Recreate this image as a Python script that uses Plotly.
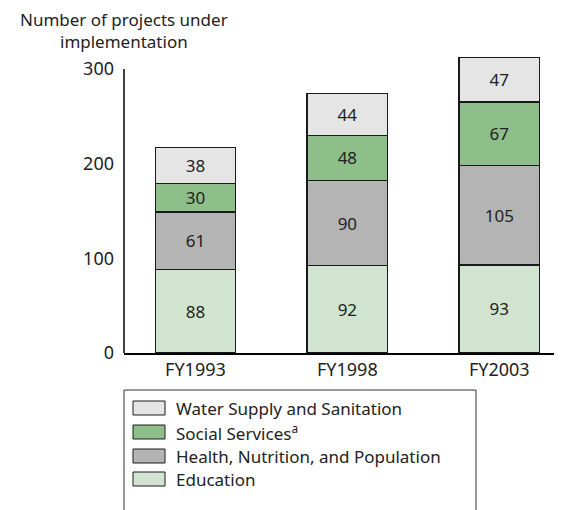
import plotly.graph_objects as go

# Projects under implementation by sector and fiscal year
years = ["FY1993", "FY1998", "FY2003"]
education = [88, 92, 93]
health = [61, 90, 105]
social = [30, 48, 67]
water = [38, 44, 47]

series = [
    ("Education", education, "#d0e4d0"),
    ("Health, Nutrition, and Population", health, "#b4b4b4"),
    ("Social Services<sup>a</sup>", social, "#8ebf8b"),
    ("Water Supply and Sanitation", water, "#e5e5e5"),
]

FONT = "Noto Sans"
W, H = 571, 510
L, R, T, B = 124, 17, 50, 157
PW, PH = W - L - R, H - T - B

fig = go.Figure()
for name, vals, color in series:
    fig.add_trace(go.Bar(
        x=years, y=vals, name=name,
        marker=dict(color=color, line=dict(color="#1a1a1a", width=1.2)),
        text=vals, textposition="inside", insidetextanchor="middle", textangle=0,
        textfont=dict(family=FONT, size=17, color="#222222"),
        constraintext="none", showlegend=False,
    ))

# y axis line drawn only up to the last tick
fig.add_shape(type="line", xref="paper", yref="y", x0=0, x1=0, y0=0, y1=300,
              line=dict(color="black", width=1.5))


def px_x(px):
    return (px - L) / PW


def px_y(py):
    return (T + PH - py) / PH


# legend box and entries (top entry first)
fig.add_shape(type="rect", xref="paper", yref="paper",
              x0=px_x(124), x1=px_x(476), y0=px_y(530), y1=px_y(390),
              line=dict(color="#333333", width=1), fillcolor="white")
row_y = [408, 432, 456, 479]
for (name, vals, color), ry in zip(series[::-1], row_y):
    fig.add_shape(type="rect", xref="paper", yref="paper",
                  x0=px_x(133), x1=px_x(165), y0=px_y(ry + 7), y1=px_y(ry - 7),
                  line=dict(color="#1a1a1a", width=1), fillcolor=color)
    fig.add_annotation(xref="paper", yref="paper", x=px_x(174), y=px_y(ry),
                       text=name, showarrow=False, xanchor="left", yanchor="middle",
                       font=dict(family=FONT, size=17, color="#222222"))

fig.add_annotation(xref="paper", yref="paper", x=px_x(124), y=px_y(30),
                   text="Number of projects under<br>implementation", showarrow=False,
                   xanchor="center", yanchor="middle", align="center",
                   font=dict(family=FONT, size=17, color="#222222"))

fig.update_layout(
    width=W, height=H, margin=dict(l=L, r=R, t=T, b=B),
    paper_bgcolor="white", plot_bgcolor="white",
    barmode="stack", bargap=0.47,
    font=dict(family=FONT, size=17, color="#222222"),
    xaxis=dict(range=[-0.47, 2.36], showline=True, linecolor="black", linewidth=1.5,
               ticks="", showgrid=False, tickfont=dict(size=18)),
    yaxis=dict(range=[0, 320], tickvals=[0, 100, 200, 300], showline=False,
               showgrid=False, zeroline=False, ticks="", ticklabelstandoff=9,
               tickfont=dict(size=18)),
)

fig.write_html("out.html")
